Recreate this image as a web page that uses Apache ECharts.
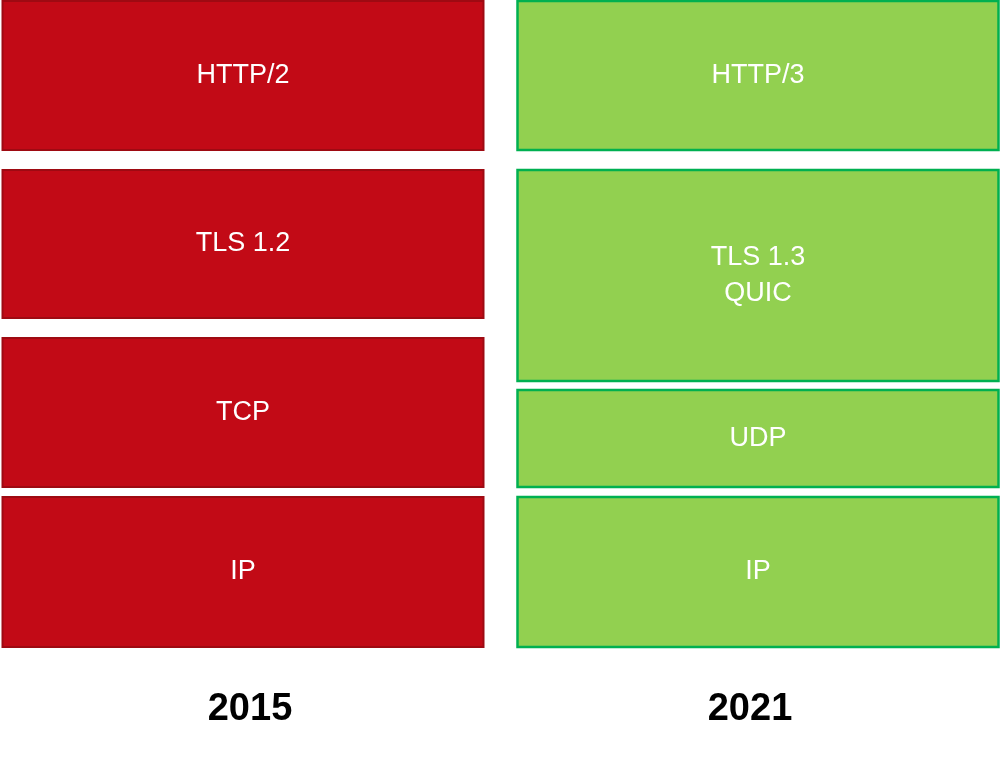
<!DOCTYPE html>
<html>
<head>
<meta charset="utf-8">
<script src="https://cdn.jsdelivr.net/npm/echarts@6/dist/echarts.min.js"></script>
<style>html,body{margin:0;padding:0;background:#fff}#chart{width:1000px;height:759px}</style>
</head>
<body>
<div id="chart"></div>
<script>
var years = ['2015', '2021'];
// [column index, bottom, top, label]
var layers2015 = [
  [0, 0, 150, 'IP'],
  [0, 160, 309, 'TCP'],
  [0, 329, 477, 'TLS 1.2'],
  [0, 497, 646, 'HTTP/2']
];
var layers2021 = [
  [1, 0, 150, 'IP'],
  [1, 160, 257, 'UDP'],
  [1, 266, 477, 'TLS 1.3\nQUIC'],
  [1, 497, 646, 'HTTP/3']
];

var chart = echarts.init(document.getElementById('chart'));

function renderBlock(params, api) {
  var col = api.value(0);
  var p0 = api.coord([col, api.value(1)]);
  var p1 = api.coord([col, api.value(2)]);
  var w = api.size([1, 0])[0] * 0.962;
  var shift = col === 0 ? -7 : 8;
  return {
    type: 'rect',
    shape: { x: p0[0] - w / 2 + shift, y: p1[1], width: w, height: p0[1] - p1[1] },
    style: api.style(),
    textContent: { style: { text: api.value(3), fill: '#fff', fontSize: 27, fontFamily: 'Liberation Sans, Arial', align: 'center', lineHeight: 36 } },
    textConfig: { position: 'inside' }
  };
}

chart.setOption({
  animation: false,
  grid: { left: 0, right: 0, top: 1, bottom: 112 },
  xAxis: {
    type: 'category', data: years,
    axisLine: { show: false }, axisTick: { show: false },
    axisLabel: { fontSize: 38, fontWeight: 'bold', color: '#000', fontFamily: 'Liberation Sans, Arial', margin: 44 }
  },
  yAxis: { type: 'value', min: 0, max: 646, show: false, splitLine: { show: false } },
  series: [
    {
      type: 'custom', renderItem: renderBlock, data: layers2015,
      encode: { x: 0, y: [1, 2] },
      itemStyle: { color: '#C20A16', borderColor: '#9E0A12', borderWidth: 2 }
    },
    {
      type: 'custom', renderItem: renderBlock, data: layers2021,
      encode: { x: 0, y: [1, 2] },
      itemStyle: { color: '#92D050', borderColor: '#00B050', borderWidth: 2.5 }
    }
  ]
});
</script>
</body>
</html>
